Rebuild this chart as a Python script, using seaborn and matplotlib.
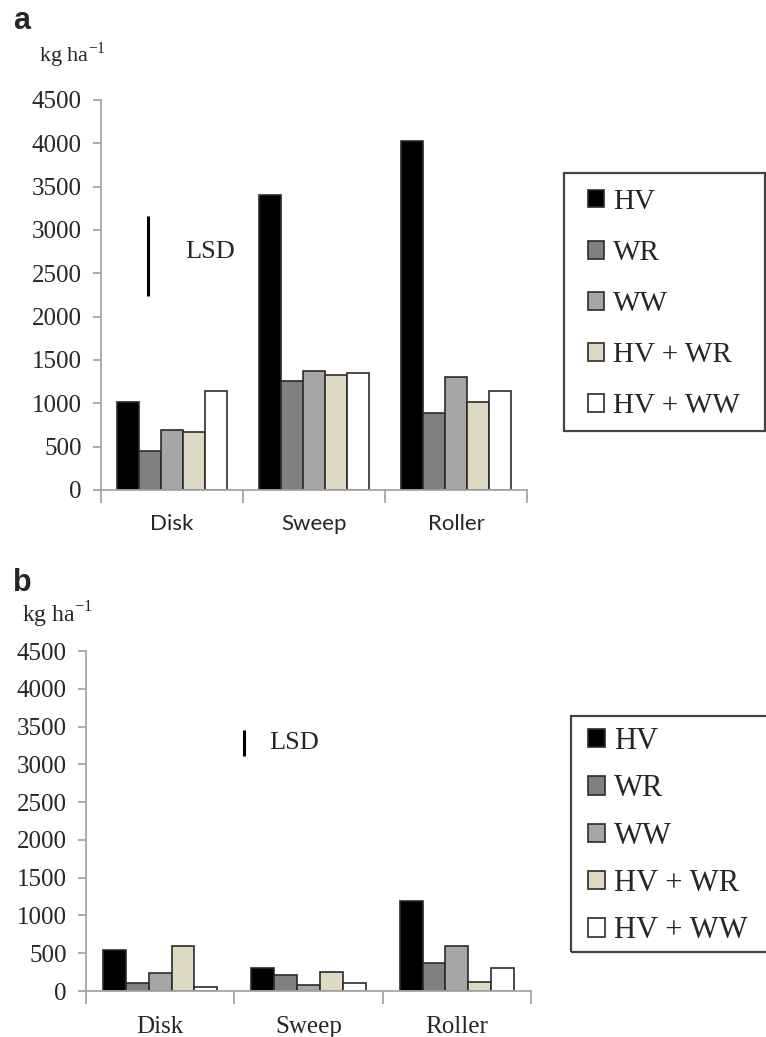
import matplotlib
matplotlib.use("Agg")
import matplotlib.pyplot as plt
from matplotlib.patches import Rectangle
import seaborn as sns
import pandas as pd
import numpy as np

# ---------------- data ----------------
implements = ["Disk", "Sweep", "Roller"]
covers = ["HV", "WR", "WW", "HV + WR", "HV + WW"]

# panel a (kg ha-1)
a_HV = [1020, 3400, 4030]
a_WR = [455, 1260, 885]
a_WW = [695, 1375, 1300]
a_HVWR = [665, 1330, 1020]
a_HVWW = [1140, 1345, 1140]
a_lsd = [2240, 3160]   # LSD bar extent

# panel b (kg ha-1)
b_HV = [545, 300, 1190]
b_WR = [100, 215, 370]
b_WW = [235, 80, 600]
b_HVWR = [590, 250, 115]
b_HVWW = [50, 100, 305]
b_lsd = [3110, 3460]

yticks = [0, 500, 1000, 1500, 2000, 2500, 3000, 3500, 4000, 4500]
colors = ["#000000", "#808080", "#a6a6a6", "#ddd9c3", "#ffffff"]


def to_long(series):
    rows = []
    for cov, vals in zip(covers, series):
        for imp, v in zip(implements, vals):
            rows.append({"Implement": imp, "Cover": cov, "Value": v})
    return pd.DataFrame(rows)


df_a = to_long([a_HV, a_WR, a_WW, a_HVWR, a_HVWW])
df_b = to_long([b_HV, b_WR, b_WW, b_HVWR, b_HVWW])

sns.set_theme(style="white")
plt.rcParams["font.family"] = ["Liberation Serif", "DejaVu Serif"]
plt.rcParams["mathtext.fontset"] = "custom"
plt.rcParams["mathtext.rm"] = "Liberation Serif"

W, H = 766, 1037
fig = plt.figure(figsize=(W / 100, H / 100), dpi=100)


def fx(px):
    return px / W


def fy(py):
    return 1 - py / H


ax_a = fig.add_axes([fx(101), fy(490), fx(527) - fx(101), fy(100) - fy(490)])
ax_b = fig.add_axes([fx(86), fy(991), fx(531) - fx(86), fy(651) - fy(991)])

spine_col = "#a6a6a6"


def style_axes(ax, df, lsd, lsd_x, lsd_text_x, lsd_text_y, xfont, xsize, xpad):
    sns.barplot(data=df, x="Implement", y="Value", hue="Cover",
                order=implements, hue_order=covers, palette=colors,
                width=0.77, edgecolor="#2b2b2b", linewidth=1.2,
                errorbar=None, ax=ax, legend=True, saturation=1)
    ax.set_xlim(-0.5, 2.5)
    ax.set_ylim(0, 4500)
    ax.set_yticks(yticks)
    ax.set_yticklabels([str(t) for t in yticks], fontsize=18,
                       family="Liberation Serif")
    ax.set_xlabel("")
    ax.set_ylabel("")
    for s in ["top", "right"]:
        ax.spines[s].set_visible(False)
    for s in ["left", "bottom"]:
        ax.spines[s].set_color(spine_col)
        ax.spines[s].set_linewidth(1.3)
    ax.tick_params(axis="y", which="major", direction="out", length=6,
                   width=1.3, color=spine_col, left=True, pad=8)
    ax.set_xticks([0, 1, 2])
    ax.set_xticklabels(implements, fontsize=xsize, family=xfont)
    ax.tick_params(axis="x", which="major", length=0, pad=xpad)
    ax.set_xticks([-0.5, 0.5, 1.5, 2.5], minor=True)
    ax.tick_params(axis="x", which="minor", direction="out", length=9,
                   width=1.3, color=spine_col, bottom=True)
    ax.grid(False)
    # LSD bar
    ax.vlines(lsd_x, lsd[0], lsd[1], color="black", linewidth=2.2)
    ax.text(lsd_text_x, lsd_text_y, "LSD", fontsize=19,
            family="Liberation Serif", va="center", ha="left")
    leg = ax.get_legend()
    handles = leg.legend_handles
    leg.remove()
    return handles


h_a = style_axes(ax_a, df_a, a_lsd, -0.172, 0.09, 2746, "Lato", 16, 17.5)
h_b = style_axes(ax_b, df_b, b_lsd, 0.565, 0.737, 3280,
                 "Liberation Serif", 18, 18)


def add_legend(ax, handles, box, anchor, size, spacing):
    x0, y0, x1, y1 = box
    fig.patches.append(Rectangle((fx(x0), fy(y1)), fx(x1) - fx(x0),
                                 fy(y0) - fy(y1), transform=fig.transFigure,
                                 fill=False, edgecolor="#444444",
                                 linewidth=1.6, zorder=5))
    for h in handles:
        h.set_edgecolor("#2b2b2b")
        h.set_linewidth(1.2)
    ax.legend(handles, covers, loc="upper left",
              bbox_to_anchor=(fx(anchor[0]), fy(anchor[1])),
              bbox_transform=fig.transFigure, frameon=False,
              prop={"family": "Liberation Serif", "size": size},
              handlelength=0.55, handleheight=0.55, handletextpad=0.3,
              labelspacing=spacing, borderpad=0, borderaxespad=0)


add_legend(ax_a, h_a, (564, 173, 765, 431), (588, 189), 21, 0.86)
add_legend(ax_b, h_b, (571, 716, 770, 952), (588, 727), 22, 0.60)

# panel letters and units
fig.text(fx(13), fy(29), "a", fontsize=22, fontweight="bold",
         family="Liberation Sans", va="baseline")
fig.text(fx(13), fy(591), "b", fontsize=22, fontweight="bold",
         family="Liberation Sans", va="baseline")
fig.text(fx(39), fy(62), r"kg ha$^{\mathregular{-1}}$", fontsize=16,
         va="baseline")
fig.text(fx(22), fy(622), r"kg ha$^{\mathregular{-1}}$", fontsize=17,
         va="baseline")

fig.savefig("out.png", dpi=100)
